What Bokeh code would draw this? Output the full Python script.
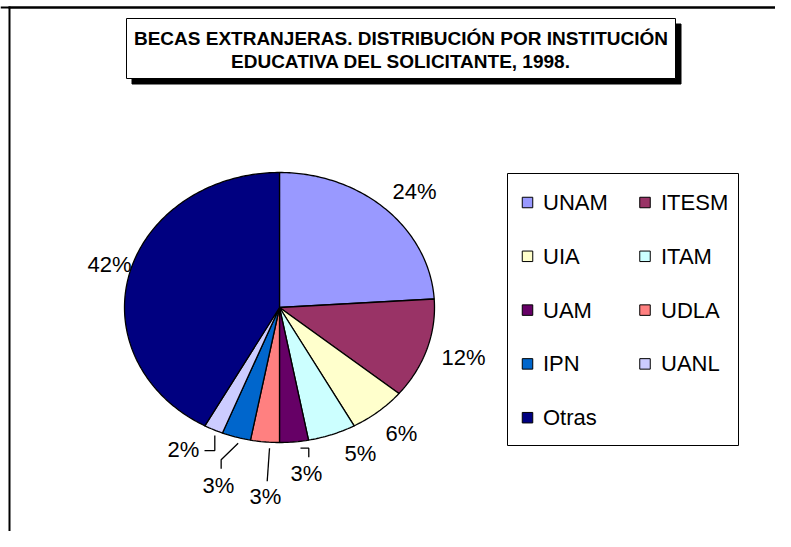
import numpy as np
from bokeh.plotting import figure
from bokeh.models import Range1d, Span
from bokeh.core.properties import value
from bokeh.embed import file_html
from bokeh.resources import INLINE

# ---------------- data ----------------
TITLE_LINES = ["BECAS EXTRANJERAS. DISTRIBUCIÓN POR INSTITUCIÓN",
               "EDUCATIVA DEL SOLICITANTE, 1998."]
CATEGORIES = ["UNAM", "ITESM", "UIA", "ITAM", "UAM", "UDLA", "IPN", "UANL", "Otras"]
PERCENTS = [24, 12, 6, 5, 3, 3, 3, 2, 42]
COLORS = ["#9999FF", "#993366", "#FFFFCC", "#CCFFFF", "#660066",
          "#FF8080", "#0066CC", "#CCCCFF", "#000080"]

# ---------------- layout (pixels) ----------------
W, H = 775, 531
CX, CY, RX, RY = 279, 307, 155, 135
LABEL_OFFSETS = [(29, -17.6), (36.6, 8.3), (23.2, 22), (28.5, 19), (12.4, 31.6),
                 (0.6, 54.6), (-17.8, 48.4), (-30, 19.9), (-19.9, -9.4)]
LEADERS = {4: [(6.4, 6.3), (14.7, 6.3), (14.7, 15.3)],
           5: [(4.6, 6.3), (2.3, 39.3)],
           6: [(1.9, 6.1), (-15.1, 22.7), (-15.1, 31.7)],
           7: [(1.3, 5.9), (1.3, 20.9), (-9, 20.9)]}
LEG_BOX = (507, 738, 173, 445)
LEG_COL_SQ = [527, 644.5]
LEG_COL_TX = [542.5, 660.5]
LEG_ROW0, LEG_ROW_STEP = 202, 53.8
TITLE_BOX = (126, 675, 18, 78)
SHADOW = 5.5
FRAME_X, FRAME_Y = 9, 7
FONT = value("Liberation Sans")

p = figure(width=W, height=H, x_range=Range1d(0, W), y_range=Range1d(H, 0),
           title=None, output_backend="svg", toolbar_location=None, min_border=0,
           x_axis_location=None, y_axis_location=None)
p.grid.visible = False
p.outline_line_color = None
p.background_fill_color = "white"
p.border_fill_color = "white"

# outer chart frame (only top and left edges visible in the window)
p.quad(left=[FRAME_X - 1, FRAME_X - 1], right=[FRAME_X + 1, W],
       top=[FRAME_Y - 1, FRAME_Y - 1], bottom=[H, FRAME_Y + 1],
       fill_color="black", line_color=None)
p.add_layout(Span(location=FRAME_Y, dimension="width", line_color="black", line_width=2))

# title box with shadow
l, r, t, b = TITLE_BOX
p.quad(left=l + SHADOW, right=r + SHADOW, top=t + SHADOW, bottom=b + SHADOW,
       fill_color="black", line_color="black")
p.quad(left=l, right=r, top=t, bottom=b, fill_color="white", line_color="black", line_width=1)
p.text(x=[(l + r) / 2] * 2, y=[37.5, 61], text=TITLE_LINES, text_font=FONT,
       text_font_size="19px", text_font_style="bold", text_align="center",
       text_baseline="middle", text_color="black")

# pie slices (clockwise from 12 o'clock)
frac = np.array(PERCENTS, dtype=float) / sum(PERCENTS)
ends = np.cumsum(frac) * 2 * np.pi
starts = ends - frac * 2 * np.pi
xs, ys = [], []
for a0, a1 in zip(starts, ends):
    n = max(int((a1 - a0) / (2 * np.pi) * 400), 3)
    tt = np.linspace(a0, a1, n + 1)
    xs.append([CX] + list(CX + RX * np.sin(tt)))
    ys.append([CY] + list(CY - RY * np.cos(tt)))
p.patches(xs, ys, fill_color=COLORS, line_color="black", line_width=1.3)

# data labels
mid = (starts + ends) / 2
ex = CX + RX * np.sin(mid)
ey = CY - RY * np.cos(mid)
lx = [ex[i] + LABEL_OFFSETS[i][0] for i in range(len(PERCENTS))]
ly = [ey[i] + LABEL_OFFSETS[i][1] for i in range(len(PERCENTS))]
p.text(x=lx, y=ly, text=[f"{v}%" for v in PERCENTS], text_font=FONT,
       text_font_size="22px", text_align="center", text_baseline="middle",
       text_color="black")

# leader lines
lxs, lys = [], []
for i, pts in LEADERS.items():
    lxs.append([ex[i] + dx for dx, dy in pts])
    lys.append([ey[i] + dy for dx, dy in pts])
p.multi_line(xs=lxs, ys=lys, line_color="black", line_width=1.3)

# legend
L, R, T, B = LEG_BOX
p.quad(left=L, right=R, top=T, bottom=B, fill_color="white", line_color="black", line_width=1)
sq_x, sq_y, tx_x = [], [], []
for i, c in enumerate(CATEGORIES):
    col, row = i % 2, i // 2
    sq_x.append(LEG_COL_SQ[col])
    sq_y.append(LEG_ROW0 + row * LEG_ROW_STEP)
    tx_x.append(LEG_COL_TX[col])
p.rect(x=sq_x, y=sq_y, width=10.5, height=10.5, fill_color=COLORS, line_color="black", line_width=1)
p.text(x=tx_x, y=sq_y, text=CATEGORIES, text_font=FONT, text_font_size="22px",
       text_align="left", text_baseline="middle", text_color="black")

open("out.html", "w").write(file_html(p, INLINE))
